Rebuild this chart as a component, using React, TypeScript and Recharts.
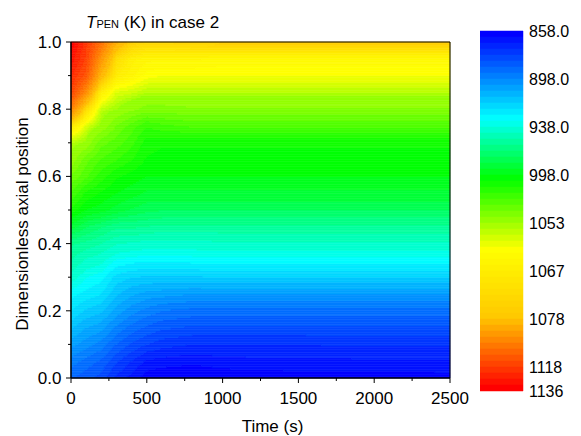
import React from 'react';
import { ComposedChart, XAxis, YAxis, ReferenceArea, ReferenceLine, Scatter, Label } from 'recharts';

const FONT = "'Liberation Sans', Arial, Helvetica, sans-serif";

// ---- data (temperatures in K) ----
const times = [0, 100, 200, 300, 400, 500, 600, 800, 1000, 1500, 2000, 2500];
const positions = [0, 0.05, 0.1, 0.15, 0.2, 0.25, 0.3, 0.35, 0.4, 0.45, 0.5, 0.55, 0.6, 0.65, 0.7, 0.75, 0.8, 0.85, 0.9, 0.95, 1.0];

const tempAt0 = [888, 896, 905, 914, 923, 930, 942, 953, 962, 987, 1010, 1025, 1039, 1052, 1055, 1068, 1098, 1117, 1124, 1130, 1135];
const tempAt100 = [885, 891, 900, 908, 917, 926, 933, 944, 958, 976, 998, 1010, 1027, 1035, 1052, 1058, 1072, 1094, 1111, 1117, 1120];
const tempAt200 = [881, 887, 896, 905, 914, 923, 930, 940, 953, 969, 994, 1004, 1015, 1025, 1035, 1052, 1056, 1066, 1082, 1092, 1103];
const tempAt300 = [872, 879, 888, 897, 906, 914, 921, 932, 946, 962, 987, 998, 1006, 1019, 1029, 1039, 1053, 1058, 1067, 1072, 1084];
const tempAt400 = [866, 873, 882, 891, 900, 909, 918, 930, 944, 962, 982, 994, 1002, 1012, 1021, 1029, 1048, 1057, 1064, 1066, 1076];
const tempAt500 = [860, 867, 878, 887, 896, 906, 917, 929, 942, 960, 978, 989, 998, 1004, 1008, 1019, 1043, 1055, 1061, 1064, 1074];
const tempAt600 = [858, 866, 875, 884, 893, 905, 917, 929, 942, 958, 976, 989, 998, 1002, 1006, 1023, 1043, 1055, 1060, 1064, 1074];
const tempAt800 = [858, 864, 873, 882, 891, 903, 917, 930, 942, 958, 976, 989, 998, 1002, 1006, 1027, 1045, 1055, 1060, 1064, 1075];
const tempAt1000 = [859, 866, 873, 882, 890, 903, 918, 930, 944, 958, 976, 989, 998, 1002, 1006, 1027, 1045, 1055, 1060, 1063, 1076];
const tempAt1500 = [860, 867, 873, 882, 890, 903, 918, 930, 944, 958, 976, 989, 998, 1002, 1006, 1027, 1045, 1055, 1060, 1063, 1076];
const tempAt2000 = [860, 867, 874, 882, 890, 903, 918, 930, 944, 958, 976, 989, 998, 1002, 1006, 1027, 1045, 1055, 1060, 1063, 1076];
const tempAt2500 = [861, 867, 874, 882, 890, 903, 918, 930, 944, 958, 976, 989, 998, 1002, 1006, 1027, 1045, 1055, 1060, 1063, 1076];

const columns = [tempAt0, tempAt100, tempAt200, tempAt300, tempAt400, tempAt500, tempAt600, tempAt800, tempAt1000, tempAt1500, tempAt2000, tempAt2500];

const colorbarLabels = ['858.0', '898.0', '938.0', '998.0', '1053', '1067', '1078', '1118', '1136'];
const colorbarTemps = [858, 898, 938, 998, 1053, 1067, 1078, 1118, 1136];
const colorbarLevels = [0, 8, 16, 24, 32, 40, 48, 56, 60];
const LEVELS = 60;

const xTicks = [0, 500, 1000, 1500, 2000, 2500];
const xMinorTicks = [250, 750, 1250, 1750, 2250];
const yTicks = [0, 0.2, 0.4, 0.6, 0.8, 1.0];
const yMinorTicks = [0.1, 0.3, 0.5, 0.7, 0.9];

// ---- colour map (blue -> cyan -> green -> yellow -> gold -> red) ----
const cmapStops: [number, number, number, number][] = [
  [0, 0, 0, 255],
  [0.24, 0, 255, 255],
  [0.41, 0, 255, 0],
  [0.61, 255, 255, 0],
  [0.8, 255, 200, 0],
  [1, 255, 0, 0],
];
function cmap(f: number): string {
  const v = Math.max(0, Math.min(1, f));
  for (let i = 0; i < cmapStops.length - 1; i++) {
    const a = cmapStops[i];
    const b = cmapStops[i + 1];
    if (v <= b[0]) {
      const u = (v - a[0]) / (b[0] - a[0]);
      const r = Math.round(a[1] + (b[1] - a[1]) * u);
      const g = Math.round(a[2] + (b[2] - a[2]) * u);
      const bl = Math.round(a[3] + (b[3] - a[3]) * u);
      return `rgb(${r},${g},${bl})`;
    }
  }
  return 'rgb(255,0,0)';
}
const bandColor = (k: number) => cmap(k / (LEVELS - 1));

function tempToBand(T: number): number {
  let lv = 0;
  if (T <= colorbarTemps[0]) lv = 0;
  else if (T >= colorbarTemps[colorbarTemps.length - 1]) lv = LEVELS;
  else {
    for (let i = 1; i < colorbarTemps.length; i++) {
      if (T <= colorbarTemps[i]) {
        const u = (T - colorbarTemps[i - 1]) / (colorbarTemps[i] - colorbarTemps[i - 1]);
        lv = colorbarLevels[i - 1] + u * (colorbarLevels[i] - colorbarLevels[i - 1]);
        break;
      }
    }
  }
  return Math.max(0, Math.min(LEVELS - 1, Math.floor(lv)));
}

// sample the gridded field (bilinear, as a contour fill does)
function fieldAt(t: number, p: number): number {
  let i = 0;
  while (i < times.length - 2 && t > times[i + 1]) i++;
  const ta = (t - times[i]) / (times[i + 1] - times[i]);
  const step = positions[1] - positions[0];
  let j = Math.floor(p / step);
  if (j > positions.length - 2) j = positions.length - 2;
  if (j < 0) j = 0;
  const pa = (p - positions[j]) / step;
  const c0 = columns[i];
  const c1 = columns[i + 1];
  const v0 = c0[j] + (c0[j + 1] - c0[j]) * pa;
  const v1 = c1[j] + (c1[j + 1] - c1[j]) * pa;
  return v0 + (v1 - v0) * ta;
}

// rendering resolution
const tEdges: number[] = [];
for (let i = 0; i < times.length - 1; i++) {
  const a = times[i];
  const b = times[i + 1];
  const res = b <= 1000 ? 10 : 50;
  const n = Math.max(1, Math.round((b - a) / res));
  for (let s = 0; s < n; s++) tEdges.push(a + ((b - a) * s) / n);
}
tEdges.push(times[times.length - 1]);
const ROWS = 200;

type Cell = { x1: number; x2: number; y1: number; y2: number; k: number };
const cells: Cell[] = [];
for (let r = 0; r < ROWS; r++) {
  const y1 = r / ROWS;
  const y2 = (r + 1) / ROWS;
  const pc = (r + 0.5) / ROWS;
  let runStart = tEdges[0];
  let runBand = -1;
  for (let c = 0; c < tEdges.length - 1; c++) {
    const tc = (tEdges[c] + tEdges[c + 1]) / 2;
    const k = tempToBand(fieldAt(tc, pc));
    if (runBand === -1) {
      runBand = k;
      runStart = tEdges[c];
    } else if (k !== runBand) {
      cells.push({ x1: runStart, x2: tEdges[c], y1, y2, k: runBand });
      runBand = k;
      runStart = tEdges[c];
    }
  }
  cells.push({ x1: runStart, x2: tEdges[tEdges.length - 1], y1, y2, k: runBand });
}

const nodes: { t: number; p: number }[] = [];
times.forEach((t) => positions.forEach((p) => nodes.push({ t, p })));

const bands = Array.from({ length: LEVELS }, (_, k) => k);

// ---- ticks ----
const XTick = (props: any) => {
  const { x, y, payload } = props;
  const major = xTicks.includes(payload.value);
  return (
    <g>
      <line x1={x} x2={x} y1={y} y2={y + (major ? 5 : 3)} stroke="#000" strokeWidth={1} />
      {major && (
        <text x={x} y={y + 14} dy="0.71em" textAnchor="middle" fontSize={17} fontFamily={FONT} fill="#000">
          {String(payload.value)}
        </text>
      )}
    </g>
  );
};

const YTick = (props: any) => {
  const { x, y, payload } = props;
  const major = yTicks.some((v) => Math.abs(v - payload.value) < 1e-6);
  return (
    <g>
      <line x1={x - (major ? 5 : 3)} x2={x} y1={y} y2={y} stroke="#000" strokeWidth={1} />
      {major && (
        <text x={x - 9.5} y={y} dy="0.355em" textAnchor="end" fontSize={17} fontFamily={FONT} fill="#000">
          {Number(payload.value).toFixed(1)}
        </text>
      )}
    </g>
  );
};

const YTitle = (props: any) => {
  const vb = props.viewBox || { x: 0, y: 0, width: 0, height: 0 };
  const x = vb.x - 3;
  const y = vb.y + vb.height / 2 + 14;
  return (
    <text x={x} y={y} transform={`rotate(-90 ${x} ${y})`} textAnchor="middle" fontSize={17} fontFamily={FONT} fill="#000">
      Dimensionless axial position
    </text>
  );
};

export default function App() {
  const allX = [...xTicks, ...xMinorTicks].sort((a, b) => a - b);
  const allY = [...yTicks, ...yMinorTicks].sort((a, b) => a - b);
  return (
    <div style={{ position: 'absolute', left: 0, top: 0, width: 581, height: 436, background: '#fff' }}>
      <div style={{ position: 'absolute', left: 0, top: 0 }}>
        <ComposedChart width={581} height={436} margin={{ top: 42, right: 131, bottom: 0, left: 31 }}>
          <XAxis
            xAxisId="main"
            type="number"
            dataKey="t"
            domain={[0, 2500]}
            allowDataOverflow
            ticks={allX}
            interval={0}
            tickSize={0}
            tickMargin={0}
            tickLine={false}
            tick={(p: any) => <XTick {...p} />}
            axisLine={{ stroke: '#000' }}
            height={58}
          >
            <Label value="Time (s)" position="insideBottom" offset={4} dx={12} fontSize={17} fontFamily={FONT} fill="#000" />
          </XAxis>
          <YAxis
            yAxisId="main"
            type="number"
            dataKey="p"
            domain={[0, 1]}
            allowDataOverflow
            ticks={allY}
            interval={0}
            tickSize={0}
            tickMargin={0}
            tickLine={false}
            tick={(p: any) => <YTick {...p} />}
            axisLine={{ stroke: '#000' }}
            width={40}
          >
            <Label content={YTitle} />
          </YAxis>
          {cells.map((c, i) => (
            <ReferenceArea
              key={`c${i}`}
              xAxisId="main"
              yAxisId="main"
              x1={c.x1}
              x2={c.x2}
              y1={c.y1}
              y2={c.y2}
              fill={bandColor(c.k)}
              fillOpacity={1}
              stroke={bandColor(c.k)}
              strokeWidth={0.6}
              ifOverflow="visible"
            />
          ))}
          <Scatter xAxisId="main" yAxisId="main" data={nodes} dataKey="p" shape={() => <g />} isAnimationActive={false} />
          <ReferenceLine xAxisId="main" yAxisId="main" y={1} stroke="#000" strokeWidth={1} ifOverflow="visible" />
          <ReferenceLine xAxisId="main" yAxisId="main" x={2500} stroke="#000" strokeWidth={1} ifOverflow="visible" />
          <ReferenceLine xAxisId="main" yAxisId="main" y={0} stroke="#000" strokeWidth={1} ifOverflow="visible" />
          <ReferenceLine xAxisId="main" yAxisId="main" x={0} stroke="#000" strokeWidth={1} ifOverflow="visible" />
        </ComposedChart>
      </div>
      <div style={{ position: 'absolute', left: 480, top: 21 }}>
        <ComposedChart width={110} height={380} margin={{ top: 10, right: 0, bottom: 10, left: 0 }}>
          <XAxis xAxisId="cb" type="number" dataKey="x" domain={[0, 1]} hide />
          <YAxis
            yAxisId="cb"
            orientation="right"
            type="number"
            dataKey="y"
            domain={[0, LEVELS]}
            reversed
            ticks={colorbarLevels}
            interval={0}
            tickFormatter={(v: number) => colorbarLabels[colorbarLevels.indexOf(v)]}
            axisLine={false}
            tickLine={false}
            tickSize={0}
            tickMargin={6}
            width={67}
            tick={{ fontSize: 16, fill: '#000', fontFamily: FONT }}
          />
          {bands.map((k) => (
            <ReferenceArea
              key={`b${k}`}
              xAxisId="cb"
              yAxisId="cb"
              x1={0}
              x2={1}
              y1={k}
              y2={k + 1}
              fill={bandColor(k)}
              fillOpacity={1}
              stroke={bandColor(k)}
              strokeWidth={0.5}
            />
          ))}
          <Scatter xAxisId="cb" yAxisId="cb" data={[{ x: 0, y: 0 }]} dataKey="y" shape={() => <g />} isAnimationActive={false} />
        </ComposedChart>
      </div>
      <svg width={581} height={436} style={{ position: 'absolute', left: 0, top: 0, pointerEvents: 'none' }}>
        <text x={86} y={28} fontSize={17} fontFamily={FONT} fill="#000">
          <tspan fontStyle="italic">T</tspan>
          <tspan fontSize={11}>PEN</tspan>
          <tspan> (K) in case 2</tspan>
        </text>
      </svg>
    </div>
  );
}
